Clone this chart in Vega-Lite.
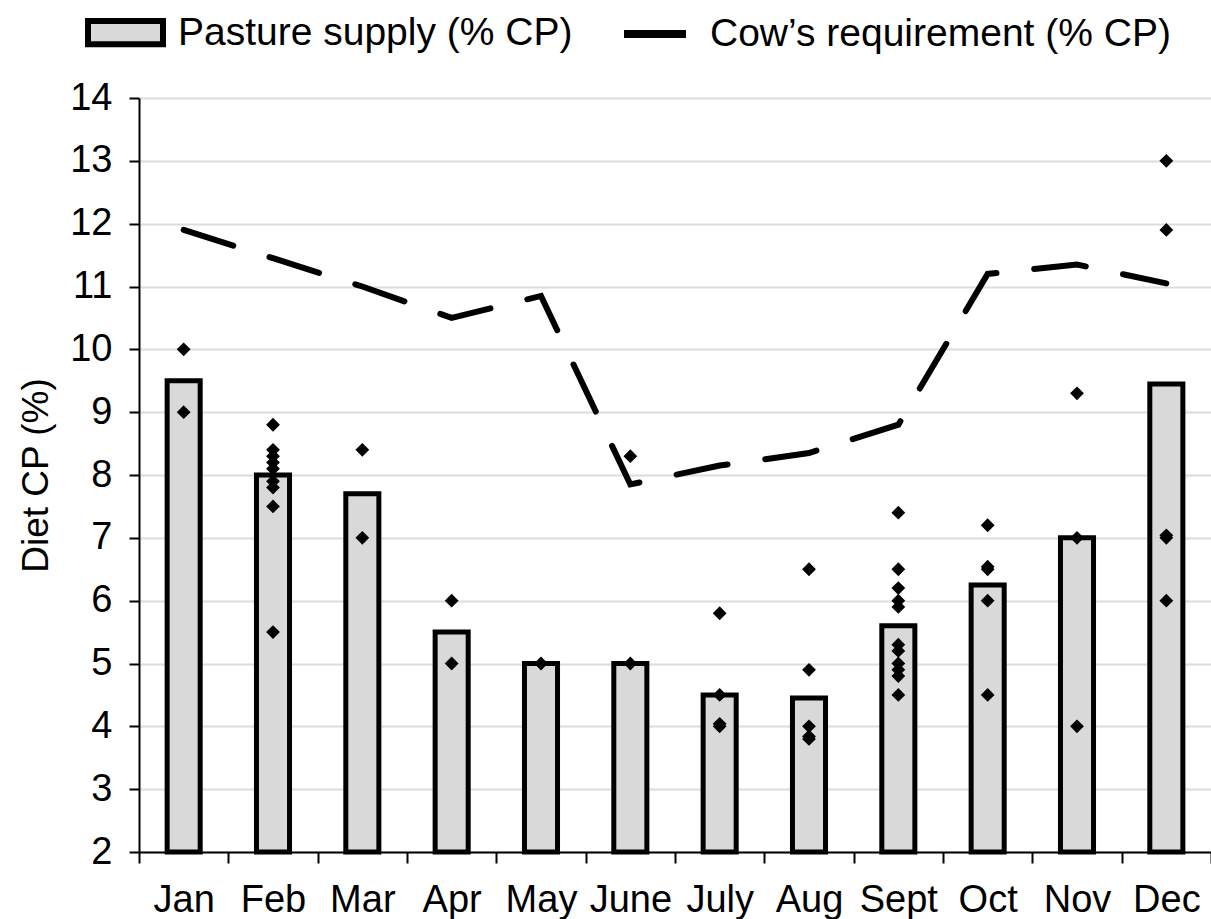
{
  "$schema": "https://vega.github.io/schema/vega-lite/v6.json",
  "width": 1072,
  "height": 754,
  "autosize": {"type": "none"},
  "padding": {"left": 139, "top": 98, "right": 0, "bottom": 67},
  "background": "white",
  "config": {"view": {"stroke": null}, "font": "Liberation Sans"},
  "datasets": {
    "supply": [
      {"month": "Jan", "cp": 9.5}, {"month": "Feb", "cp": 8.0}, {"month": "Mar", "cp": 7.7},
      {"month": "Apr", "cp": 5.5}, {"month": "May", "cp": 5.0}, {"month": "June", "cp": 5.0},
      {"month": "July", "cp": 4.5}, {"month": "Aug", "cp": 4.45}, {"month": "Sept", "cp": 5.6},
      {"month": "Oct", "cp": 6.25}, {"month": "Nov", "cp": 7.0}, {"month": "Dec", "cp": 9.45}
    ],
    "req": [
      {"month": "Jan", "cp": 11.9}, {"month": "Feb", "cp": 11.45}, {"month": "Mar", "cp": 11.0},
      {"month": "Apr", "cp": 10.5}, {"month": "May", "cp": 10.85}, {"month": "June", "cp": 7.85},
      {"month": "July", "cp": 8.15}, {"month": "Aug", "cp": 8.35}, {"month": "Sept", "cp": 8.8},
      {"month": "Oct", "cp": 11.2}, {"month": "Nov", "cp": 11.35}, {"month": "Dec", "cp": 11.05}
    ],
    "obs": [
      {"month": "Jan", "cp": 10.0}, {"month": "Jan", "cp": 9.0},
      {"month": "Feb", "cp": 8.8}, {"month": "Feb", "cp": 8.4}, {"month": "Feb", "cp": 8.3}, {"month": "Feb", "cp": 8.2},
      {"month": "Feb", "cp": 8.1}, {"month": "Feb", "cp": 7.9}, {"month": "Feb", "cp": 7.8}, {"month": "Feb", "cp": 7.5},
      {"month": "Feb", "cp": 5.5},
      {"month": "Mar", "cp": 8.4}, {"month": "Mar", "cp": 7.0},
      {"month": "Apr", "cp": 6.0}, {"month": "Apr", "cp": 5.0},
      {"month": "May", "cp": 5.0},
      {"month": "June", "cp": 8.3}, {"month": "June", "cp": 5.0},
      {"month": "July", "cp": 5.8}, {"month": "July", "cp": 4.5}, {"month": "July", "cp": 4.0}, {"month": "July", "cp": 4.04},
      {"month": "Aug", "cp": 6.5}, {"month": "Aug", "cp": 4.9}, {"month": "Aug", "cp": 4.0}, {"month": "Aug", "cp": 3.8}, {"month": "Aug", "cp": 3.84},
      {"month": "Sept", "cp": 7.4}, {"month": "Sept", "cp": 6.5}, {"month": "Sept", "cp": 6.2}, {"month": "Sept", "cp": 6.0},
      {"month": "Sept", "cp": 5.9}, {"month": "Sept", "cp": 5.3}, {"month": "Sept", "cp": 5.2}, {"month": "Sept", "cp": 5.0},
      {"month": "Sept", "cp": 4.9}, {"month": "Sept", "cp": 4.8}, {"month": "Sept", "cp": 4.5},
      {"month": "Oct", "cp": 7.2}, {"month": "Oct", "cp": 6.5}, {"month": "Oct", "cp": 6.54}, {"month": "Oct", "cp": 6.0}, {"month": "Oct", "cp": 4.5},
      {"month": "Nov", "cp": 9.3}, {"month": "Nov", "cp": 7.0}, {"month": "Nov", "cp": 4.0},
      {"month": "Dec", "cp": 13.0}, {"month": "Dec", "cp": 11.9}, {"month": "Dec", "cp": 7.0}, {"month": "Dec", "cp": 7.04}, {"month": "Dec", "cp": 6.0}
    ]
  },
  "layer": [
    {
      "data": {"name": "supply"},
      "mark": {"type": "bar", "stroke": "black", "strokeWidth": 5, "width": {"band": 0.37}},
      "encoding": {
        "x": {
          "field": "month", "type": "nominal", "sort": null,
          "scale": {"domain": ["Jan", "Feb", "Mar", "Apr", "May", "June", "July", "Aug", "Sept", "Oct", "Nov", "Dec"], "paddingInner": 0, "paddingOuter": 0},
          "axis": {
            "title": null, "labelFont": "Liberation Sans", "labelFontSize": 38, "labelColor": "black",
            "labelPadding": 18, "labelAngle": 0, "tickSize": 11, "tickColor": "black", "tickWidth": 2,
            "domainColor": "black", "domainWidth": 2, "tickBand": "extent", "grid": false
          }
        },
        "y": {
          "field": "cp", "type": "quantitative",
          "scale": {"domain": [2, 14], "nice": false, "zero": false},
          "axis": {
            "title": "Diet CP (%)", "titleFont": "Liberation Sans", "titleFontSize": 37, "titleFontWeight": "normal",
            "titleColor": "black", "titlePadding": 14,
            "values": [2, 3, 4, 5, 6, 7, 8, 9, 10, 11, 12, 13, 14], "format": "d",
            "labelFont": "Liberation Sans", "labelFontSize": 38, "labelColor": "black", "labelPadding": 17,
            "tickSize": 10, "tickColor": "black", "tickWidth": 2,
            "domainColor": "black", "domainWidth": 2,
            "grid": true, "gridColor": "#dcdcdc", "gridWidth": 2
          }
        },
        "y2": {"datum": 2},
        "fill": {
          "datum": "Pasture supply (% CP)",
          "scale": {"range": ["#d9d9d9"]},
          "legend": {
            "orient": "none", "legendX": -54, "legendY": -106, "title": null, "padding": 0,
            "symbolType": "M-1,-0.31H1V0.31H-1Z", "symbolSize": 5625,
            "symbolStrokeColor": "black", "symbolStrokeWidth": 6, "symbolFillColor": "#d9d9d9",
            "labelFont": "Liberation Sans", "labelFontSize": 39, "labelColor": "black",
            "labelOffset": 12, "labelLimit": 1000
          }
        }
      }
    },
    {
      "data": {"name": "req"},
      "mark": {"type": "line", "strokeWidth": 6, "strokeDash": [52, 38], "strokeCap": "round"},
      "encoding": {
        "x": {"field": "month", "type": "nominal", "sort": null},
        "y": {"field": "cp", "type": "quantitative"},
        "stroke": {
          "datum": "Cow’s requirement (% CP)",
          "scale": {"range": ["black"]},
          "legend": {
            "orient": "none", "legendX": 481, "legendY": -99, "title": null, "padding": 0,
            "symbolType": "stroke", "symbolSize": 3844, "symbolStrokeWidth": 8, "symbolDash": [1000, 0],
            "labelFont": "Liberation Sans", "labelFontSize": 39, "labelColor": "black",
            "labelOffset": 20, "labelLimit": 1000
          }
        }
      }
    },
    {
      "data": {"name": "obs"},
      "mark": {"type": "point", "shape": "diamond", "filled": true, "size": 190, "color": "black", "opacity": 1},
      "encoding": {
        "x": {"field": "month", "type": "nominal", "sort": null},
        "y": {"field": "cp", "type": "quantitative"}
      }
    }
  ]
}
